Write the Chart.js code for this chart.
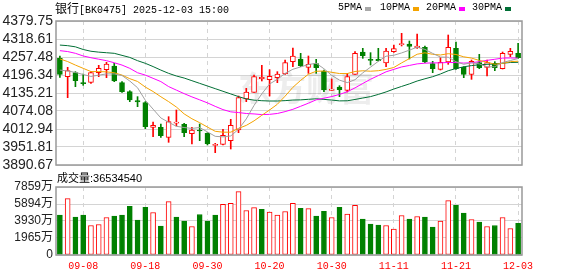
<!DOCTYPE html>
<html>
<head>
<meta charset="utf-8">
<script src="https://cdn.jsdelivr.net/npm/chart.js@4.4.0/dist/chart.umd.min.js"></script>
<style>
  body { margin: 0; background: #fff; }
  #wrap { position: relative; width: 578px; height: 276px; overflow: hidden; }
  canvas { position: absolute; left: 0; }
  .txt { position: absolute; white-space: nowrap; color: #000; line-height: 14px; }
  .mono { font-family: "Liberation Mono", monospace; font-size: 10px; }
  .cjk { font-family: "Noto Sans CJK SC", sans-serif; font-size: 12px; }
  .sw { position: absolute; width: 6px; height: 4px; }
</style>
</head>
<body>
<div id="wrap">
  <canvas id="main" width="578" height="178" style="top:0"></canvas>
  <canvas id="vol" width="578" height="100" style="top:176px"></canvas>

  <div class="txt" style="left:55px; top:1px"><span class="cjk">银行</span><span class="mono">[BK0475] 2025-12-03 15:00</span></div>

  <div class="txt mono" style="left:338px; top:1px">5PMA</div>
  <div class="sw" style="left:365px; top:7px; background:#a8a8a8"></div>
  <div class="txt mono" style="left:380px; top:1px">10PMA</div>
  <div class="sw" style="left:413px; top:7px; background:#f4a300"></div>
  <div class="txt mono" style="left:426px; top:1px">20PMA</div>
  <div class="sw" style="left:459px; top:7px; background:#ff00ff"></div>
  <div class="txt mono" style="left:472px; top:1px">30PMA</div>
  <div class="sw" style="left:505px; top:7px; background:#006f35"></div>

  <div class="txt" style="left:57px; top:170px"><span class="cjk" style="font-size:11px">成交量</span><span style="font-family:'Liberation Sans'; font-size:11px">:36534540</span></div>
</div>

<script>
// trading days 09-03 .. 12-03
const dates = [
  "09-03","09-04","09-05","09-08","09-09","09-10","09-11","09-12","09-15","09-16",
  "09-17","09-18","09-19","09-22","09-23","09-24","09-25","09-26","09-29","09-30",
  "10-09","10-10","10-13","10-14","10-15","10-16","10-17","10-20","10-21","10-22",
  "10-23","10-24","10-27","10-28","10-29","10-30","10-31","11-03","11-04","11-05",
  "11-06","11-07","11-10","11-11","11-12","11-13","11-14","11-17","11-18","11-19",
  "11-20","11-21","11-24","11-25","11-26","11-27","11-28","12-01","12-02","12-03"
];

const opens = [
  4253.0,4190.7,4204.3,4170.3,4171.4,4204.3,4214.5,4226.9,4170.3,4139.7,
  4109.2,4102.4,4018.6,4018.6,3984.6,4033.0,4028.8,3997.1,4009.6,3998.2,
  3957.5,3960.9,3973.3,4009.6,4114.8,4137.5,4183.9,4180.5,4187.3,4199.7,
  4241.6,4250.7,4222.4,4234.8,4209.9,4144.3,4155.6,4144.3,4198.6,4274.5,
  4249.6,4249.6,4237.1,4275.6,4299.4,4301.6,4289.2,4290.3,4234.8,4215.6,
  4240.5,4286.9,4222.4,4198.6,4238.2,4222.4,4236.0,4217.9,4266.5,4269.9
];
const highs = [
  4260.9,4222.4,4207.7,4199.7,4207.7,4229.2,4239.4,4236.0,4173.7,4143.1,
  4122.8,4105.8,4036.7,4029.9,4054.8,4077.5,4032.2,4018.6,4029.9,4000.5,
  3964.3,4011.8,4045.8,4125.0,4151.1,4196.4,4229.2,4214.5,4207.7,4247.3,
  4288.1,4269.9,4260.9,4249.6,4213.3,4182.8,4160.1,4202.0,4275.6,4286.9,
  4272.2,4286.9,4286.9,4298.2,4337.9,4311.8,4335.6,4294.9,4242.8,4255.2,
  4332.2,4308.4,4224.7,4247.3,4266.5,4247.3,4241.6,4274.5,4286.9,4303.9
];
const lows = [
  4188.4,4119.4,4156.7,4161.3,4168.0,4190.7,4187.3,4173.7,4137.5,4105.8,
  4088.8,4014.1,3986.9,3984.6,3967.7,4023.1,3986.9,3962.0,3973.3,3958.6,
  3932.6,3958.6,3945.0,4000.5,4105.8,4137.5,4176.0,4125.0,4170.3,4198.6,
  4224.7,4224.7,4202.0,4202.0,4139.7,4144.3,4122.8,4138.6,4198.6,4253.0,
  4230.3,4243.9,4224.7,4273.3,4294.9,4250.7,4286.9,4238.2,4204.3,4213.3,
  4232.6,4215.6,4187.3,4181.6,4217.9,4192.9,4211.1,4216.7,4258.6,4253.0
];
const closes = [
  4198.6,4211.1,4177.1,4166.9,4204.3,4219.0,4233.7,4175.9,4139.7,4111.4,
  4104.7,4020.9,4025.4,3990.3,4037.9,4036.0,4000.5,4009.6,4006.2,3963.0,
  3961.0,3991.4,4025.4,4119.4,4138.6,4190.7,4188.4,4191.8,4199.7,4238.2,
  4260.9,4228.1,4232.6,4221.3,4145.4,4148.8,4146.5,4190.7,4269.9,4262.0,
  4246.2,4245.0,4277.9,4285.8,4301.6,4293.7,4294.9,4240.5,4217.9,4239.4,
  4290.3,4217.9,4198.6,4242.8,4221.3,4238.2,4221.3,4269.9,4276.7,4255.2
];

const ma5 = [
  4213.0,4210.0,4205.0,4198.0,4191.6,4195.7,4200.2,4200.0,4194.5,4175.9,
  4153.1,4110.5,4080.4,4050.5,4035.8,4022.1,4018.0,4014.9,4018.0,4003.1,
  3988.1,3986.2,3989.4,4012.0,4047.2,4093.1,4132.5,4165.8,4181.8,4201.8,
  4215.8,4223.7,4231.9,4236.2,4217.7,4195.2,4178.9,4170.5,4180.3,4203.6,
  4223.1,4242.8,4260.2,4263.4,4271.3,4280.8,4290.8,4283.3,4269.7,4257.3,
  4256.6,4241.2,4232.8,4237.8,4234.2,4223.8,4224.4,4238.7,4245.5,4252.3
];
const ma10 = [
  4251.0,4242.0,4230.0,4219.0,4208.0,4208.0,4207.0,4204.0,4196.0,4183.8,
  4174.4,4155.4,4140.2,4122.5,4105.9,4087.6,4064.3,4047.7,4034.3,4019.5,
  4005.1,4002.1,4002.2,4015.0,4025.2,4040.6,4059.4,4077.6,4096.9,4124.5,
  4154.5,4178.1,4198.9,4209.0,4209.8,4205.5,4201.3,4201.2,4208.3,4210.7,
  4209.2,4210.9,4215.4,4221.9,4237.5,4252.0,4266.8,4271.8,4266.6,4264.3,
  4268.7,4266.0,4258.1,4253.8,4245.8,4240.2,4232.8,4235.8,4241.7,4243.3
];
const ma20 = [
  4279.0,4276.0,4270.0,4261.0,4255.0,4250.0,4245.0,4238.0,4230.0,4219.0,
  4204.0,4196.0,4185.0,4174.0,4157.0,4145.0,4133.0,4122.0,4112.0,4101.7,
  4089.8,4078.8,4071.2,4068.8,4065.6,4064.1,4061.9,4062.7,4065.6,4072.0,
  4079.8,4090.1,4100.6,4112.0,4117.5,4123.1,4130.4,4139.4,4152.6,4167.6,
  4181.9,4194.5,4207.2,4215.5,4223.7,4228.8,4234.1,4236.5,4237.5,4237.5,
  4239.0,4238.5,4236.8,4237.9,4241.7,4246.1,4249.8,4253.8,4254.2,4253.8
];
const ma30 = [
  4298.0,4296.0,4292.0,4283.0,4277.0,4274.0,4272.0,4270.0,4263.0,4256.0,
  4245.0,4236.0,4225.0,4213.0,4202.0,4193.0,4186.0,4177.0,4168.0,4159.0,
  4150.0,4141.0,4132.0,4123.0,4115.0,4111.0,4109.0,4108.0,4108.0,4109.3,
  4111.3,4111.9,4113.8,4115.5,4113.6,4111.3,4108.4,4108.8,4113.2,4118.2,
  4123.0,4130.4,4138.9,4148.7,4157.5,4166.1,4175.9,4183.5,4190.6,4199.8,
  4210.8,4218.4,4224.2,4228.3,4231.1,4232.6,4233.6,4236.3,4238.9,4239.4
];

// volume in 万
const volumes = [
  4601,6518,4371,4601,3412,3527,4332,4486,4601,5636,
  4026,5521,4908,3336,6173,4371,3911,3297,4677,3911,
  4601,5866,5981,7323,5138,5483,5291,4946,4601,5023,
  5981,5406,5368,4486,5061,4332,5521,4716,5751,4141,
  3566,3451,3412,2991,4562,4141,4447,4371,3221,3911,
  6288,5751,4831,4102,3796,3297,3412,4332,3067,3653
];

const priceTicks = [3890.67,3951.81,4012.94,4074.08,4135.21,4196.34,4257.48,4318.61,4379.75];
const volTicks = [0,1965,3930,5894,7859];

const RED = "#ff0000";
const GREEN = "#008000";
const GRID = "#d4d4d4";

const isUp = closes.map((c, i) => c >= opens[i]);
const volUp = closes.map((c, i) => i === 0 ? c >= opens[0] : c >= closes[i - 1]);

const frame = {
  id: "frame",
  afterDraw(chart) {
    const { ctx, chartArea: a } = chart;
    ctx.save();
    ctx.strokeStyle = "#999";
    ctx.lineWidth = 1.5;
    ctx.strokeRect(a.left, a.top, a.right - a.left, a.bottom - a.top);
    ctx.restore();
  }
};

const watermark = {
  id: "watermark",
  beforeDatasetsDraw(chart) {
    const ctx = chart.ctx;
    ctx.save();
    ctx.fillStyle = "rgba(0,0,0,0.07)";
    ctx.font = "bold 34px 'Noto Sans CJK SC'";
    ctx.textBaseline = "middle";
    ctx.fillText("东方财富", 238, 88);
    ctx.restore();
  }
};

function xAxis(showLabels) {
  return {
    type: "category",
    offset: true,
    grid: { offset: false, color: GRID, drawTicks: false },
    border: { display: false, dash: [4, 4] },
    ticks: {
      display: showLabels,
      autoSkip: false,
      maxRotation: 0,
      color: RED,
      padding: 5,
      font: { family: "'Liberation Mono'", size: 10 }
    },
    afterBuildTicks: (s) => { s.ticks = s.ticks.filter((t) => t.value % 8 === 3); },
    afterFit: (s) => { s.height = showLabels ? 21 : 13; }
  };
}

function yAxis(tickValues, fontSize, fmt) {
  return {
    min: tickValues[0],
    max: tickValues[tickValues.length - 1],
    afterBuildTicks: (s) => { s.ticks = tickValues.map((v) => ({ value: v })); },
    afterFit: (s) => { s.width = 56; },
    grid: { color: GRID, drawTicks: false },
    border: { display: false },
    ticks: {
      autoSkip: false,
      color: "#222",
      padding: 3,
      font: { family: "'Liberation Sans', 'Noto Sans CJK SC'", size: fontSize },
      callback: fmt
    }
  };
}

function lineSet(data, color) {
  return {
    type: "line",
    data: data,
    borderColor: color,
    borderWidth: 1,
    pointRadius: 0,
    tension: 0,
    order: 0
  };
}

new Chart(document.getElementById("main"), {
  type: "bar",
  data: {
    labels: dates,
    datasets: [
      lineSet(ma5, "#a0a0a0"),
      lineSet(ma10, "#f4a300"),
      lineSet(ma20, "#ff00ff"),
      lineSet(ma30, "#006f35"),
      {
        data: opens.map((o, i) => [o, closes[i]]),
        backgroundColor: isUp.map((u) => u ? "#fff" : GREEN),
        borderColor: isUp.map((u) => u ? RED : GREEN),
        borderWidth: 1,
        borderSkipped: false,
        barThickness: 5,
        minBarLength: 1,
        grouped: false,
        order: 2
      },
      {
        data: lows.map((l, i) => [l, highs[i]]),
        backgroundColor: isUp.map((u) => u ? RED : GREEN),
        barThickness: 1,
        grouped: false,
        order: 3
      }
    ]
  },
  options: {
    responsive: false,
    animation: false,
    events: [],
    layout: { padding: { top: 21, right: 56, left: 0, bottom: 0 } },
    plugins: { legend: { display: false }, tooltip: { enabled: false } },
    scales: {
      x: xAxis(false),
      y: yAxis(priceTicks, 14, (v) => v.toFixed(2))
    }
  },
  plugins: [watermark, frame]
});

new Chart(document.getElementById("vol"), {
  type: "bar",
  data: {
    labels: dates,
    datasets: [{
      data: volumes,
      backgroundColor: volUp.map((u) => u ? "#fff" : GREEN),
      borderColor: volUp.map((u) => u ? RED : GREEN),
      borderWidth: 1,
      borderSkipped: false,
      barThickness: 5
    }]
  },
  options: {
    responsive: false,
    animation: false,
    events: [],
    layout: { padding: { top: 11, right: 56, left: 0, bottom: 0 } },
    plugins: { legend: { display: false }, tooltip: { enabled: false } },
    scales: {
      x: xAxis(true),
      y: yAxis(volTicks, 12, (v) => v === 0 ? "0" : v + "万")
    }
  },
  plugins: [frame]
});
</script>
</body>
</html>
